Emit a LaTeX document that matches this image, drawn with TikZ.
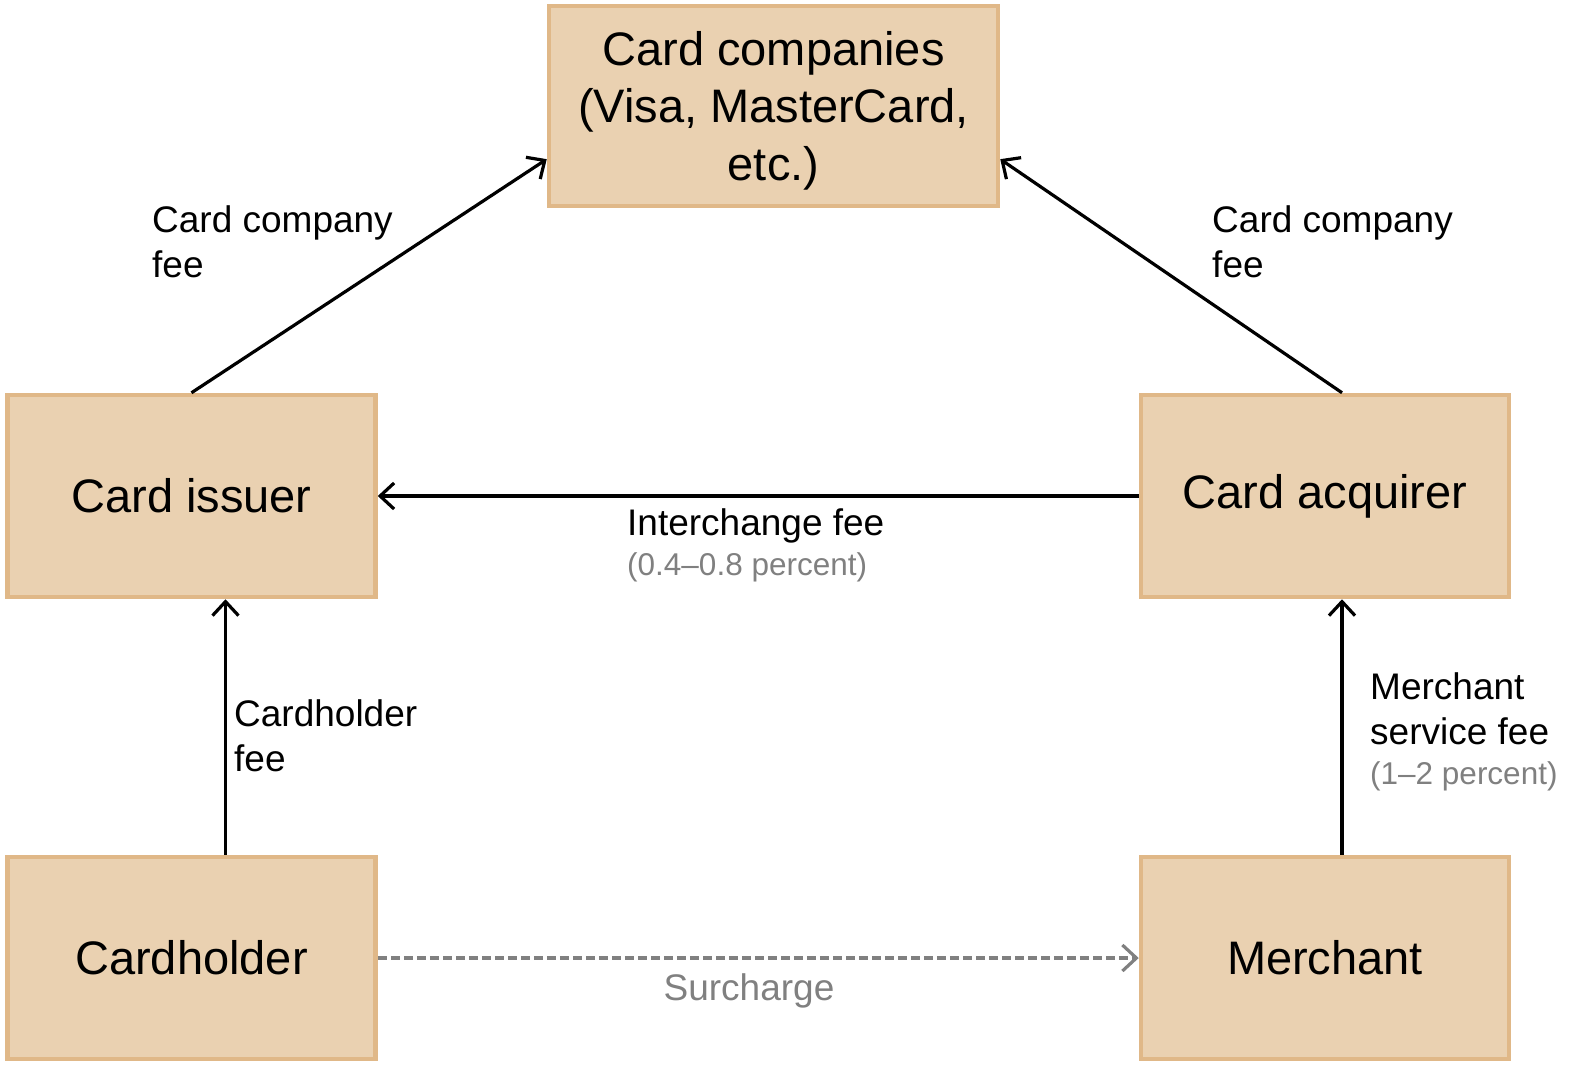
\documentclass[tikz,border=0pt]{standalone}
\usepackage{fontspec}
\setmainfont{Liberation Sans}
\usetikzlibrary{arrows.meta,calc}
\definecolor{boxfill}{RGB}{234,209,177}
\definecolor{boxline}{RGB}{224,184,136}
\definecolor{feegray}{RGB}{128,128,128}
\newcommand{\pctnote}[1]{{\color{feegray}\fontsize{31.5bp}{40bp}\selectfont #1}}
\begin{document}
\begin{tikzpicture}[x=1bp,y=-1bp,
  party/.style = {draw = boxline, fill = boxfill, line width = 4.5bp, minimum width = 368bp, minimum height = 202bp, inner sep = 0pt, align = center, font = \fontsize{47bp}{57.5bp}\selectfont},
  fee/.style = {anchor = base west, inner sep = 0pt, align = left, font = \fontsize{37bp}{45bp}\selectfont},
  flow/.style = {line width = 3.2bp, -{Straight Barb[length=14bp,width=26bp,line width=3.2bp]}}]
\useasboundingbox (0,0) rectangle (1575,1067);
\node[party, minimum width = 449bp, minimum height = 200bp] (company) at (773.5,106){\raisebox{-5bp}[\height][\depth]{\begin{tabular}{@{}c@{}}Card companies\\(Visa, MasterCard,\\etc.)\end{tabular}}};
\node[party] (issuer) at (191.5,496){Card issuer};
\node[party] (acquirer) at (1325,496){Card acquirer};
\node[party] (holder) at (191.5,958){Cardholder};
\node[party] (merchant) at (1325,958){Merchant};
\draw[flow] (issuer.north) -- ($(company.south west)!0.24!(company.north west)$);
\draw[flow] ([xshift=17bp]acquirer.north) -- ($(company.south east)!0.24!(company.north east)$);
\draw[flow] (acquirer.west) -- (issuer.east);
\draw[flow] ([xshift=34bp]holder.north) -- ([xshift=34bp]issuer.south);
\draw[flow] ([xshift=17bp]merchant.north) -- ([xshift=17bp]acquirer.south);
\draw[flow, draw = feegray, dash pattern = on 9bp off 4bp] (holder.east) -- (merchant.west);
% labels: base anchor sits on the last line
\node[fee] (cofeeL) at (152,277){Card company\\fee};
\node[fee] (cofeeR) at (1212,277){Card company\\fee};
\node[fee] (interfee) at (627,575){Interchange fee\\[-5bp]\pctnote{(0.4–0.8 percent)}};
\node[fee] (holderfee) at (234,771){Cardholder\\fee};
\node[fee] (servicefee) at (1370,784){Merchant\\service fee\\[-5bp]\pctnote{(1–2 percent)}};
\node[fee, anchor = base, text = feegray] (surcharge) at (749,1000){Surcharge};
\end{tikzpicture}
\end{document}
